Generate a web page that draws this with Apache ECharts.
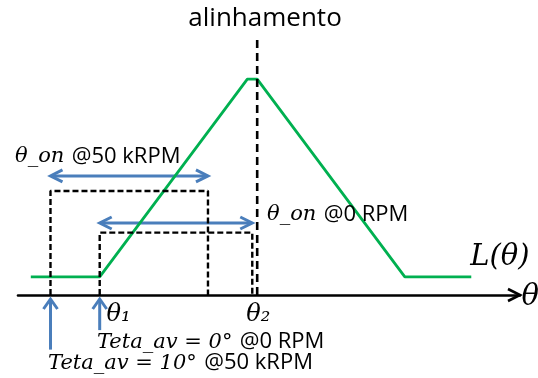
<!DOCTYPE html>
<html>
<head>
<meta charset="utf-8">
<script src="https://cdn.jsdelivr.net/npm/echarts@6/dist/echarts.min.js"></script>
<style>
  html, body { margin: 0; padding: 0; background: #ffffff; }
  #chart { width: 538px; height: 378px; }
</style>
</head>
<body>
<div id="chart"></div>
<script>
// Rotor angle of the breakpoints of the phase inductance profile L(θ), degrees
const thetaKnots = [-14, 0, 30, 32, 62, 75.5];
// Phase inductance at those angles (arbitrary units)
const inductance = [0.7, 0.7, 8.3, 8.3, 0.7, 0.7];
// Aligned rotor position (degrees)
const alignAngle = 32;
// Excitation windows at each speed: turn-on angle, turn-off angle (degrees)
const pulseSpeeds = ['50 kRPM', '0 RPM'];
const pulseOn = [-10, 0];
const pulseOff = [22, 31];
// Advance angle Teta_av at each speed (degrees)
const advanceAngle = [10, 0];
// Angle labels on the θ axis
const thetaTickNames = ['θ₁', 'θ₂'];
const thetaTickAngles = [0, 31];

// ---- drawing layout (plot units) ----
const X_MIN = -16.6, X_MAX = 85.4, Y_MIN = 0, Y_MAX = 10;
const pulseHeight = [4.0, 2.4];
const spanArrowHeight = [4.58, 2.77];
const advanceTail = [-2.1, -1.35];

const GREEN = '#00B050';
const BLUE = '#4A7EBB';
const MATH = '"DejaVu Serif", serif';
const SANS = '"Open Sans", "Noto Sans", sans-serif';

const rich = {
  m: { fontFamily: MATH, fontStyle: 'italic', fontSize: 21, color: '#000' },
  s: { fontFamily: SANS, fontSize: 22, color: '#000', padding: [0, 0, 0, 4] },
  a: { fontFamily: SANS, fontSize: 26, color: '#000' },
  L: { fontFamily: MATH, fontStyle: 'italic', fontSize: 29, color: '#000' },
  t: { fontFamily: MATH, fontStyle: 'italic', fontSize: 24, color: '#000' }
};

const labels = [
  { at: [33.6, 10.62], align: 'center', text: '{a|alinhamento}' },
  { at: [-17.2, 5.31], align: 'left', text: `{m|θ_on} {s|@${pulseSpeeds[0]}}` },
  { at: [34.0, 3.08], align: 'left', text: `{m|θ_on} {s|@${pulseSpeeds[1]}}` },
  { at: [75.3, 1.46], align: 'left', text: '{L|L(θ)}' },
  { at: [85.7, -0.08], align: 'left', text: '{L|θ}' },
  { at: [thetaTickAngles[0] + 1.4, -0.77], align: 'left', text: `{t|${thetaTickNames[0]}}` },
  { at: [thetaTickAngles[1] - 1.2, -0.77], align: 'left', text: `{t|${thetaTickNames[1]}}` },
  { at: [pulseOn[1] - 0.55, -1.81], align: 'left', text: `{m|Teta_av = ${advanceAngle[1]}°} {s|@${pulseSpeeds[1]}}` },
  { at: [pulseOn[0] - 0.5, -2.62], align: 'left', text: `{m|Teta_av = ${advanceAngle[0]}°} {s|@${pulseSpeeds[0]}}` }
];

// open "V" arrow head with its tip at (tx, ty) pointing along (dx, dy)
function chevron(tx, ty, dx, dy, len, half, color, width) {
  const nx = -dy, ny = dx;
  return {
    type: 'polyline',
    shape: { points: [
      [tx - len * dx + half * nx, ty - len * dy + half * ny],
      [tx, ty],
      [tx - len * dx - half * nx, ty - len * dy - half * ny]
    ] },
    style: { stroke: color, lineWidth: width, fill: null, lineJoin: 'miter' }
  };
}

const series = [];

// inductance profile
series.push({
  type: 'line', name: 'L(θ)',
  data: thetaKnots.map((t, i) => [t, inductance[i]]),
  symbol: 'none', clip: false,
  lineStyle: { color: GREEN, width: 2.8 }
});

// aligned position marker
series.push({
  type: 'line',
  data: [[alignAngle, Y_MIN], [alignAngle, Y_MAX]],
  symbol: 'none', clip: false,
  lineStyle: { color: '#000', width: 2.6, type: [8, 5] }
});

// excitation windows
pulseOn.forEach((on, i) => {
  series.push({
    type: 'line',
    data: [[on, Y_MIN], [on, pulseHeight[i]], [pulseOff[i], pulseHeight[i]], [pulseOff[i], Y_MIN]],
    symbol: 'none', clip: false,
    lineStyle: { color: '#000', width: 2.4, type: [6, 3] }
  });
});

// double arrows spanning each conduction window
series.push({
  type: 'custom', clip: false,
  data: pulseOn.map((on, i) => [on, pulseOff[i], spanArrowHeight[i]]),
  renderItem: (params, api) => {
    const a = api.coord([api.value(0), api.value(2)]);
    const b = api.coord([api.value(1), api.value(2)]);
    return { type: 'group', children: [
      { type: 'line', shape: { x1: a[0] + 1, y1: a[1], x2: b[0] - 1, y2: b[1] },
        style: { stroke: BLUE, lineWidth: 3 } },
      chevron(a[0], a[1], -1, 0, 12, 6, BLUE, 3),
      chevron(b[0], b[1], 1, 0, 12, 6, BLUE, 3)
    ] };
  }
});

// advance-angle arrows pointing up at the turn-on angles
series.push({
  type: 'custom', clip: false,
  data: pulseOn.map((on, i) => [on, advanceTail[i]]),
  renderItem: (params, api) => {
    const tip = api.coord([api.value(0), Y_MIN]);
    const tail = api.coord([api.value(0), api.value(1)]);
    const ty = tip[1] + 4;
    return { type: 'group', children: [
      { type: 'line', shape: { x1: tip[0], y1: ty + 1, x2: tail[0], y2: tail[1] },
        style: { stroke: BLUE, lineWidth: 3 } },
      chevron(tip[0], ty, 0, -1, 10, 7, BLUE, 3)
    ] };
  }
});

// arrow head of the θ axis
series.push({
  type: 'custom', clip: false,
  data: [[X_MAX, Y_MIN]],
  renderItem: (params, api) => {
    const p = api.coord([api.value(0), api.value(1)]);
    return chevron(p[0], p[1], 1, 0, 12, 6, '#000', 2.6);
  }
});

// text annotations
series.push({
  type: 'custom', clip: false, z: 10,
  data: labels.map((l, i) => [l.at[0], l.at[1], i]),
  renderItem: (params, api) => {
    const p = api.coord([api.value(0), api.value(1)]);
    const l = labels[api.value(2)];
    return { type: 'text', x: p[0], y: p[1],
      style: { text: l.text, rich: rich, align: l.align, verticalAlign: 'middle' } };
  }
});

const chart = echarts.init(document.getElementById('chart'), null, { renderer: 'canvas' });
chart.setOption({
  animation: false,
  backgroundColor: '#ffffff',
  grid: { left: 18, right: 18, top: 35, bottom: 83 },
  xAxis: {
    type: 'value', min: X_MIN, max: X_MAX,
    axisLine: { show: true, onZero: false, lineStyle: { color: '#000', width: 2.6 } },
    axisTick: { show: false }, axisLabel: { show: false }, splitLine: { show: false }
  },
  yAxis: { type: 'value', min: Y_MIN, max: Y_MAX, show: false, splitLine: { show: false } },
  series: series
});
</script>
</body>
</html>
